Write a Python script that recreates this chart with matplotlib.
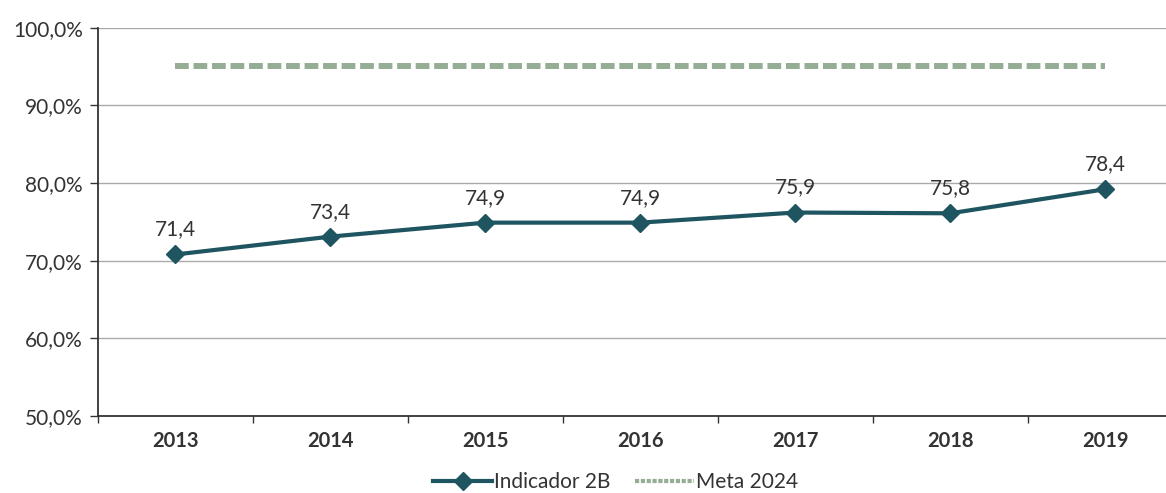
import matplotlib.pyplot as plt
from matplotlib.lines import Line2D
from matplotlib.ticker import FuncFormatter, FixedLocator
import numpy as np

anos = ["2013", "2014", "2015", "2016", "2017", "2018", "2019"]
indicador = [70.8, 73.1, 74.9, 74.9, 76.2, 76.1, 79.2]
rotulos = ["71,4", "73,4", "74,9", "74,9", "75,9", "75,8", "78,4"]
meta = [95.0] * 7

plt.rcParams['font.family'] = ['Lato', 'DejaVu Sans']
cor_ind = "#1f5560"
cor_meta = "#94ad94"
cor_txt = "#333333"

fig = plt.figure(figsize=(11.66, 4.93), dpi=100)
ax = fig.add_axes([0.084, 0.156, 0.9305, 0.788])

x = np.arange(len(anos))
ax.plot(x, meta, color=cor_meta, lw=4.3, dashes=(2.3, 0.8), solid_capstyle="butt",
        dash_capstyle="butt", zorder=2)
ax.plot(x, indicador, color=cor_ind, lw=3, marker="D", markersize=9, zorder=3)

for i in range(len(anos)):
    ax.annotate(rotulos[i], (x[i], indicador[i]), xytext=(0, 18), textcoords="offset points",
                ha="center", va="center", fontsize=15, color=cor_txt)

ax.set_xlim(-0.5, len(anos) - 0.5)
ax.set_ylim(50, 100)
ax.set_yticks(np.arange(50, 101, 10))
ax.yaxis.set_major_formatter(FuncFormatter(lambda v, p: ("%.1f%%" % v).replace(".", ",")))
ax.grid(axis="y", color="#aaaaaa", lw=1)
ax.set_axisbelow(True)

ax.set_xticks(x)
ax.set_xticklabels(anos, fontweight="bold", fontsize=14.5, color=cor_txt)
ax.xaxis.set_minor_locator(FixedLocator(np.arange(-0.5, len(anos), 1)))
ax.tick_params(axis="x", which="major", length=0, pad=11)
ax.tick_params(axis="x", which="minor", length=5, width=1, color="#333333")
ax.tick_params(axis="y", length=6, width=1, color="#333333", labelsize=15,
               labelcolor=cor_txt, pad=5)

for s in ["top", "right"]:
    ax.spines[s].set_visible(False)
ax.spines["left"].set_color("#333333")
ax.spines["bottom"].set_color("#333333")
ax.spines["left"].set_linewidth(1.3)
ax.spines["bottom"].set_linewidth(1.3)

h1 = Line2D([], [], color=cor_ind, lw=3, marker="D", markersize=9)
h2 = Line2D([], [], color=cor_meta, lw=3, dashes=(1, 0.4))
fig.legend([h1, h2], ["Indicador 2B", "Meta 2024"], loc="center",
           bbox_to_anchor=(0.528, 0.022), ncol=2, frameon=False, fontsize=15,
           handlelength=2.8, handletextpad=0.1, columnspacing=1.2, labelcolor=cor_txt)

fig.savefig("out.png", dpi=100)
